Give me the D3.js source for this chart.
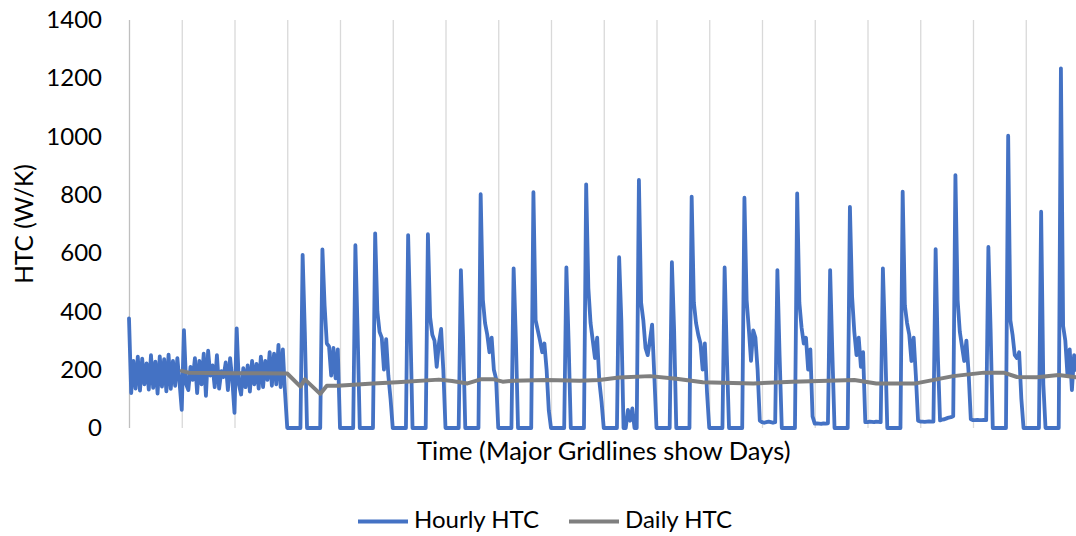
<!DOCTYPE html>
<html>
<head>
<meta charset="utf-8">
<script src="https://cdn.jsdelivr.net/npm/d3@7"></script>
<style>
  body { margin: 0; background: #fff; }
  text { font-family: Lato, "Open Sans", sans-serif; }
</style>
</head>
<body>
<div id="chart"></div>
<script>
// Hourly HTC readings (W/K), one row per day, 18 days
const hourlyHTC = [
  376, 120, 230, 135, 245, 128, 238, 150, 222, 132, 250, 138, 228, 118, 246, 142, 236, 126, 252, 134, 230, 145, 240, 155,
  62, 336, 150, 130, 210, 165, 240, 120, 230, 150, 255, 110, 265, 180, 215, 140, 250, 135, 195, 175, 225, 130, 240, 165,
  52, 342, 150, 115, 205, 140, 215, 125, 230, 150, 220, 135, 245, 140, 230, 165, 260, 145, 255, 150, 285, 140, 270, 120,
  0, 0, 0, 0, 0, 0, 0, 594, 330, 0, 0, 0, 0, 0, 0, 0, 613, 420, 290, 280, 180, 275, 170, 270,
  0, 0, 0, 0, 0, 0, 0, 627, 336, 0, 0, 0, 0, 0, 0, 0, 668, 400, 330, 310, 200, 305, 180, 100,
  0, 0, 0, 0, 0, 0, 0, 662, 360, 0, 0, 0, 0, 0, 0, 0, 665, 380, 320, 300, 210, 290, 340, 200,
  0, 0, 0, 0, 0, 0, 0, 542, 313, 0, 0, 0, 0, 0, 0, 0, 802, 440, 360, 320, 260, 310, 200, 170,
  0, 0, 0, 0, 0, 0, 0, 548, 310, 0, 0, 0, 0, 0, 0, 0, 809, 370, 335, 300, 260, 290, 200, 60,
  0, 0, 0, 0, 0, 0, 0, 551, 300, 0, 0, 0, 0, 0, 0, 0, 836, 480, 360, 300, 240, 310, 160, 90,
  0, 0, 0, 0, 0, 0, 0, 586, 370, 0, 0, 62, 25, 67, 0, 0, 851, 430, 370, 275, 250, 300, 355, 180,
  0, 0, 0, 0, 0, 0, 0, 569, 340, 0, 0, 0, 0, 0, 0, 0, 794, 430, 360, 320, 290, 200, 290, 120,
  0, 0, 0, 0, 0, 0, 0, 551, 250, 0, 0, 0, 0, 0, 0, 0, 790, 440, 340, 230, 335, 310, 200, 25,
  20, 18, 20, 22, 20, 18, 20, 542, 250, 0, 0, 0, 0, 0, 0, 0, 805, 430, 345, 290, 310, 200, 270, 40,
  15, 16, 15, 14, 16, 15, 16, 542, 260, 0, 0, 0, 0, 0, 0, 0, 759, 450, 330, 250, 310, 210, 260, 20,
  20, 22, 21, 20, 22, 21, 20, 548, 300, 0, 0, 0, 0, 0, 0, 0, 811, 420, 360, 320, 230, 310, 180, 25,
  22, 22, 21, 22, 23, 22, 22, 614, 250, 26, 29, 30, 33, 36, 37, 40, 868, 440, 330, 280, 230, 300, 190, 30,
  27, 27, 28, 27, 27, 28, 27, 621, 340, 0, 0, 0, 0, 0, 0, 0, 1003, 370, 320, 250, 240, 260, 100, 0,
  0, 0, 0, 0, 0, 0, 0, 742, 150, 0, 0, 0, 0, 0, 0, 0, 1234, 350, 300, 180, 270, 130, 250, 200
];

// Daily HTC (rolling), hour index and value
const dailyHours = [24, 27, 36, 48, 60, 72, 78, 80, 87, 90, 95, 111, 122, 141, 147, 154, 160, 166, 170, 175,
  190, 205, 214, 223, 237, 249, 261, 284, 302, 322, 330, 340, 358, 375, 389, 398, 404, 413, 423, 431];
const dailyHTC = [196, 190, 189, 188, 188, 187, 142, 167, 117, 145, 145, 153, 157, 166, 161, 153, 167, 167, 159, 162,
  165, 162, 165, 173, 178, 169, 157, 153, 159, 163, 165, 153, 153, 178, 190, 190, 175, 174, 182, 174];

const yTicks = [0, 200, 400, 600, 800, 1000, 1200, 1400];
const dayCount = 18;
const seriesNames = ["Hourly HTC", "Daily HTC"];
const seriesColors = ["#4472c4", "#7f7f7f"];

const width = 1076;
const height = 536;
const plotLeft = 129;
const plotTop = 20;
const plotBottom = 428;
const dayWidth = 52.75;

const svg = d3.select("#chart")
  .append("svg")
  .attr("width", width)
  .attr("height", height)
  .style("background", "#fff");

const x = d3.scaleLinear()
  .domain([0, dayCount * 24])
  .range([plotLeft, plotLeft + dayCount * dayWidth]);

const y = d3.scaleLinear()
  .domain([0, 1400])
  .range([plotBottom, plotTop]);

// day gridlines (first one is the axis line, a bit darker)
svg.append("g")
  .attr("transform", `translate(0,${plotBottom})`)
  .call(d3.axisBottom(x)
    .tickValues(d3.range(0, dayCount * 24 + 1, 24))
    .tickSize(-(plotBottom - plotTop))
    .tickFormat(""))
  .call((g) => g.select(".domain").remove())
  .call((g) => g.selectAll(".tick line")
    .attr("stroke", (d) => (d === 0 ? "#bfbfbf" : "#d9d9d9"))
    .attr("stroke-width", 1.3));

// y axis labels
svg.append("g")
  .attr("transform", `translate(${plotLeft},0)`)
  .call(d3.axisLeft(y).tickValues(yTicks).tickFormat(d3.format("d")).tickSize(0).tickPadding(27))
  .call((g) => g.select(".domain").remove())
  .call((g) => g.selectAll("text")
    .attr("font-size", "24px")
    .attr("fill", "#000")
    .style("font-family", "Lato, 'Open Sans', sans-serif"));

// hourly series
const hourlyLine = d3.line()
  .x((d, i) => x(i))
  .y((d) => y(d));

svg.append("path")
  .datum(hourlyHTC)
  .attr("fill", "none")
  .attr("stroke", seriesColors[0])
  .attr("stroke-width", 3.8)
  .attr("stroke-linejoin", "round")
  .attr("stroke-linecap", "round")
  .attr("d", hourlyLine);

// daily series
const dailyLine = d3.line()
  .x((d) => x(d[0]))
  .y((d) => y(d[1]));

svg.append("path")
  .datum(d3.zip(dailyHours, dailyHTC))
  .attr("fill", "none")
  .attr("stroke", seriesColors[1])
  .attr("stroke-width", 4)
  .attr("stroke-linejoin", "round")
  .attr("stroke-linecap", "round")
  .attr("d", dailyLine);

// axis titles
svg.append("text")
  .attr("transform", "translate(33,224) rotate(-90)")
  .attr("text-anchor", "middle")
  .attr("font-size", "24.5px")
  .attr("fill", "#000")
  .text("HTC (W/K)");

svg.append("text")
  .attr("x", (plotLeft + plotLeft + dayCount * dayWidth) / 2)
  .attr("y", 460)
  .attr("text-anchor", "middle")
  .attr("font-size", "25.5px")
  .attr("fill", "#000")
  .text("Time (Major Gridlines show Days)");

// legend
const legendX = [358, 569];
const legend = svg.append("g");
seriesNames.forEach((name, i) => {
  legend.append("line")
    .attr("x1", legendX[i])
    .attr("x2", legendX[i] + 50)
    .attr("y1", 521.5)
    .attr("y2", 521.5)
    .attr("stroke", seriesColors[i])
    .attr("stroke-width", 3.8);
  legend.append("text")
    .attr("x", legendX[i] + 56)
    .attr("y", 528)
    .attr("font-size", "24px")
    .attr("fill", "#000")
    .text(name);
});
</script>
</body>
</html>
